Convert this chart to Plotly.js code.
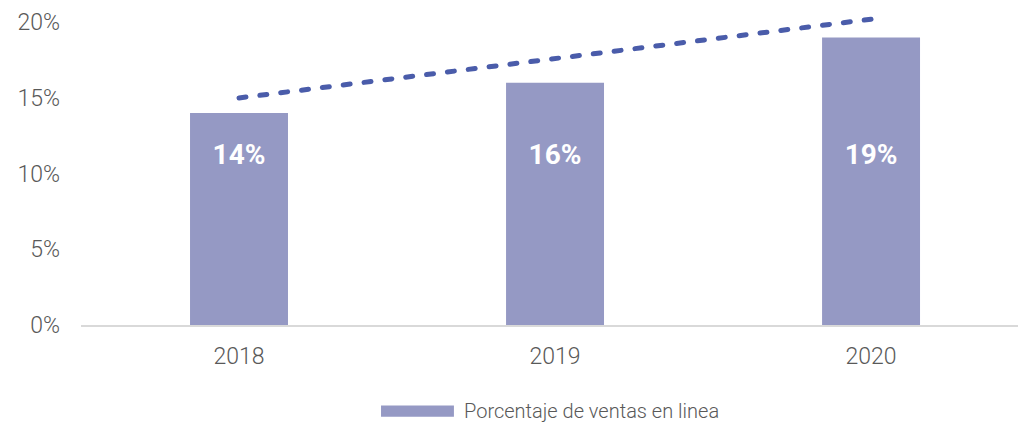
<!DOCTYPE html>
<html>
<head>
<meta charset="utf-8">
<script src="https://cdn.plot.ly/plotly-3.0.1.min.js"></script>
<style>
  html, body { margin: 0; padding: 0; background: #fff; }
  #chart { width: 1018px; height: 423px; }
  .scatterlayer path.js-line { stroke-linecap: round; }
</style>
</head>
<body>
<div id="chart"></div>
<script>
const years = ['2018', '2019', '2020'];
const ventas = [14, 16, 19];
const tendencia = [15.0, 17.6, 20.2];
const yTicks = [0, 5, 10, 15, 20];
const yTickText = ['0%', '5%', '10%', '15%', '20%'];
const serieName = 'Porcentaje de ventas en linea';

const barColor = '#9599c4';
const lineColor = '#4a5caa';
const fontFam = 'Roboto, "Noto Sans", sans-serif';

const bars = {
    x: years,
    y: ventas,
    type: 'bar',
    name: serieName,
    marker: { color: barColor },
    width: 0.31,
    hoverinfo: 'skip',
    showlegend: false
};

const trend = {
    x: years,
    y: tendencia,
    type: 'scatter',
    mode: 'lines',
    line: { color: lineColor, width: 5, dash: '7px,14px' },
    hoverinfo: 'skip',
    showlegend: false
};

// value labels sit at one common height inside the bars
const labelTrace = {
    x: years,
    y: years.map(() => 11.1),
    type: 'scatter',
    mode: 'text',
    text: ventas.map(v => v + '%'),
    textposition: 'middle center',
    textfont: { family: fontFam, size: 28, color: '#ffffff', weight: 700 },
    hoverinfo: 'skip',
    showlegend: false
};

const layout = {
    width: 1018,
    height: 423,
    margin: { l: 81, r: 0, t: 0, b: 98 },
    paper_bgcolor: '#ffffff',
    plot_bgcolor: '#ffffff',
    xaxis: {
        type: 'category',
        range: [-0.5, 2.465],
        showgrid: false,
        zeroline: false,
        showline: true,
        linecolor: '#d9d9d9',
        linewidth: 2,
        ticks: '',
        tickfont: { family: fontFam, size: 23, color: '#595959', weight: 300 },
        ticklabelstandoff: 9
    },
    yaxis: {
        range: [0, 21.47],
        tickmode: 'array',
        tickvals: yTicks,
        ticktext: yTickText,
        showgrid: false,
        zeroline: false,
        showline: false,
        ticks: '',
        tickfont: { family: fontFam, size: 23, color: '#595959', weight: 300 },
        ticklabelstandoff: 20
    },
    // legend drawn by hand to get the wide swatch
    shapes: [{
        type: 'rect',
        xref: 'paper', yref: 'paper',
        x0: 0.3202, x1: 0.398,
        y0: -0.248, y1: -0.282,
        fillcolor: barColor,
        line: { width: 0 }
    }],
    annotations: [{
        x: 0.407, y: -0.265,
        xref: 'paper', yref: 'paper',
        xanchor: 'left', yanchor: 'middle',
        text: serieName,
        showarrow: false,
        font: { family: fontFam, size: 20, color: '#595959', weight: 300 }
    }]
};

Plotly.newPlot('chart', [bars, trend, labelTrace], layout, { displayModeBar: false, staticPlot: true });
</script>
</body>
</html>
